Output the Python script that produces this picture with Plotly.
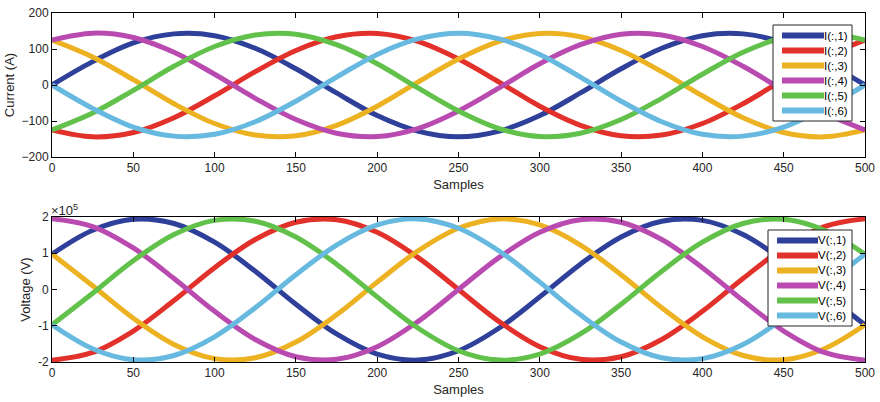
import plotly.graph_objects as go
from plotly.subplots import make_subplots

# Sample index (every 25 samples over the 0..500 window)
samples = list(range(0, 501, 25))

# Six-phase line currents (A)
i1 = [0, 65, 117, 142, 137, 102, 45, -22, -85, -128, -144, -128, -85, -22, 45, 102, 137, 142, 117, 65, 0]
i2 = [-125, -144, -132, -91, -30, 37, 96, 134, 143, 121, 72, 8, -59, -112, -141, -139, -107, -52, 15, 78, 125]
i3 = [125, 78, 15, -52, -107, -139, -141, -112, -59, 8, 72, 121, 143, 134, 96, 37, -30, -91, -132, -144, -125]
i4 = [125, 144, 132, 91, 30, -37, -96, -134, -143, -121, -72, -8, 59, 112, 141, 139, 107, 52, -15, -78, -125]
i5 = [-125, -78, -15, 52, 107, 139, 141, 112, 59, -8, -72, -121, -143, -134, -96, -37, 30, 91, 132, 144, 125]
i6 = [0, -65, -117, -142, -137, -102, -45, 22, 85, 128, 144, 128, 85, 22, -45, -102, -137, -142, -117, -65, 0]

# Six-phase voltages (V)
v1 = [97500, 163500, 193900, 182000, 130500, 50500, -40500, -122700, -178100, -194700, -168900, -106200, -20400, 69900, 144900, 188400, 190700, 151500, 79300, -10200, -97500]
v2 = [-195000, -173700, -114600, -30500, 60300, 137900, 185500, 192600, 157800, 88500, 0, -88500, -157800, -192600, -185500, -137900, -60300, 30500, 114600, 173700, 195000]
v3 = [97500, 10200, -79300, -151500, -190700, -188400, -144900, -69900, 20400, 106200, 168900, 194700, 178100, 122700, 40500, -50500, -130500, -182000, -193900, -163500, -97500]
v4 = [195000, 173700, 114600, 30500, -60300, -137900, -185500, -192600, -157800, -88500, 0, 88500, 157800, 192600, 185500, 137900, 60300, -30500, -114600, -173700, -195000]
v5 = [-97500, -10200, 79300, 151500, 190700, 188400, 144900, 69900, -20400, -106200, -168900, -194700, -178100, -122700, -40500, 50500, 130500, 182000, 193900, 163500, 97500]
v6 = [-97500, -163500, -193900, -182000, -130500, -50500, 40500, 122700, 178100, 194700, 168900, 106200, 20400, -69900, -144900, -188400, -190700, -151500, -79300, 10200, 97500]

current_names = ["I(:,1)", "I(:,2)", "I(:,3)", "I(:,4)", "I(:,5)", "I(:,6)"]
voltage_names = ["V(:,1)", "V(:,2)", "V(:,3)", "V(:,4)", "V(:,5)", "V(:,6)"]
colors = ["#2E409A", "#E2312A", "#ECB222", "#B94BB0", "#62C14B", "#68B9E0"]

x_ticks = list(range(0, 501, 50))
current_ticks = [-200, -100, 0, 100, 200]
voltage_ticks = [-200000, -100000, 0, 100000, 200000]
voltage_ticktext = ["-2", "-1", "0", "1", "2"]

FONT = "Liberation Sans, Arial, Helvetica, sans-serif"
TXT = "#262626"

fig = make_subplots(rows=2, cols=1, vertical_spacing=0.0)

for name, ys, c in zip(current_names, [i1, i2, i3, i4, i5, i6], colors):
    fig.add_trace(go.Scatter(x=samples, y=ys, name=name, mode="lines",
                             line=dict(color=c, width=5, shape="spline"),
                             showlegend=False), row=1, col=1)
for name, ys, c in zip(voltage_names, [v1, v2, v3, v4, v5, v6], colors):
    fig.add_trace(go.Scatter(x=samples, y=ys, name=name, mode="lines",
                             line=dict(color=c, width=5, shape="spline"),
                             showlegend=False), row=2, col=1)

axis_common = dict(showline=True, linecolor="black", linewidth=1, mirror="ticks",
                   ticks="inside", ticklen=5, tickcolor="black", showgrid=False,
                   zeroline=False, automargin=False,
                   tickfont=dict(family=FONT, size=12, color=TXT))
title_font = dict(family=FONT, size=13, color=TXT)

fig.update_xaxes(range=[0, 500], tickvals=x_ticks, **axis_common)
fig.update_xaxes(title=dict(text="Samples", font=title_font, standoff=5), row=1, col=1)
fig.update_xaxes(title=dict(text="Samples", font=title_font, standoff=5), row=2, col=1)
fig.update_yaxes(**axis_common)
fig.update_yaxes(range=[-200, 200], tickvals=current_ticks,
                 title=dict(text="Current (A)", font=title_font, standoff=4),
                 row=1, col=1)
fig.update_yaxes(range=[-200000, 200000], tickvals=voltage_ticks, ticktext=voltage_ticktext,
                 title=dict(text="Voltage (V)", font=title_font, standoff=4),
                 row=2, col=1)

W, H = 880, 402
ml, mr, mt, mb = 52, 15, 13, 40
ph = H - mt - mb
fig.update_layout(
    width=W, height=H,
    margin=dict(l=ml, r=mr, t=mt, b=mb, autoexpand=False),
    paper_bgcolor="white", plot_bgcolor="white",
    font=dict(family=FONT, size=12, color=TXT),
    xaxis=dict(domain=[0, 1]), xaxis2=dict(domain=[0, 1]),
    yaxis=dict(domain=[(H - mb - 157) / ph, 1]),
    yaxis2=dict(domain=[0, (H - mb - 217) / ph]),
)

# Exponent label for the voltage axis
fig.add_annotation(xref="x2 domain", yref="y2 domain", x=0, y=1, xanchor="left", yanchor="bottom",
                   text="×10<sup>5</sup>", showarrow=False, yshift=-3, xshift=-3,
                   font=dict(family=FONT, size=13, color=TXT))

# Boxed legends drawn inside each axes (upper-right corner)
def add_legend(names, xref, yref, axis_name, box_x0, box_w, box_top, row_h, line_len):
    pw = W - ml - mr
    dom = fig.layout[axis_name].domain
    ax_h = (dom[1] - dom[0]) * ph
    n = len(names)
    box_h = n * row_h + 6
    fx = lambda px: px / pw
    fy = lambda py: 1 - py / ax_h
    fig.add_shape(type="rect", xref=xref, yref=yref,
                  x0=fx(box_x0), x1=fx(box_x0 + box_w), y0=fy(box_top + box_h), y1=fy(box_top),
                  line=dict(color="#262626", width=1), fillcolor="white", layer="above")
    for k, (nm, c) in enumerate(zip(names, colors)):
        yc = box_top + 3 + row_h * (k + 0.5)
        fig.add_shape(type="line", xref=xref, yref=yref,
                      x0=fx(box_x0 + 9), x1=fx(box_x0 + 9 + line_len), y0=fy(yc), y1=fy(yc),
                      line=dict(color=c, width=6), layer="above")
        fig.add_annotation(xref=xref, yref=yref, x=fx(box_x0 + 9 + line_len), y=fy(yc),
                           xanchor="left", yanchor="middle", text=nm, showarrow=False,
                           xshift=-2, font=dict(family=FONT, size=11.5, color="black"))

add_legend(current_names, "x domain", "y domain", "yaxis", 773 - ml, 79, 25 - 13, 15, 42)
add_legend(voltage_names, "x2 domain", "y2 domain", "yaxis2", 768 - ml, 84, 230 - 217, 15, 41)

fig.write_html("out.html")
